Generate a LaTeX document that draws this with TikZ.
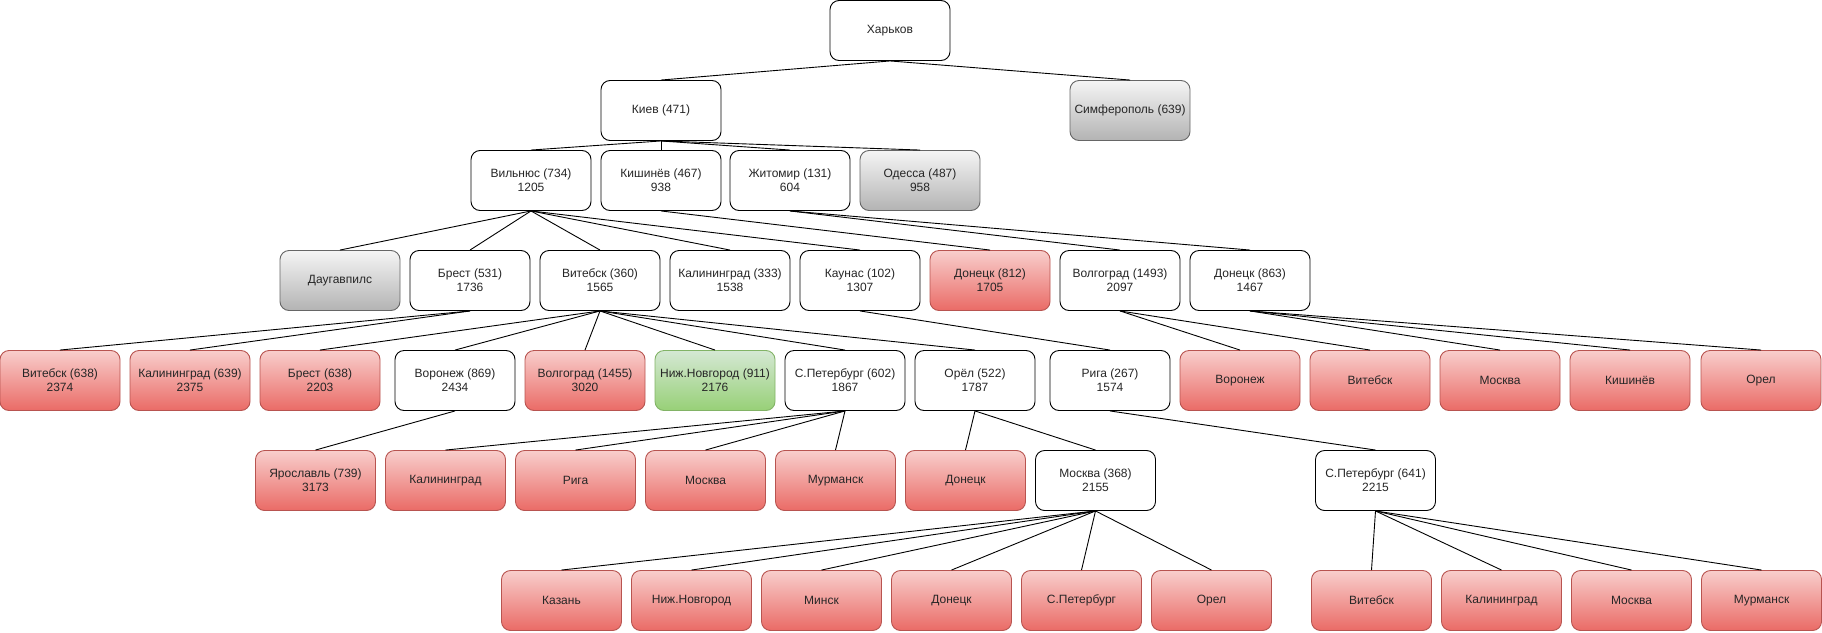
\documentclass[tikz,border=0pt]{standalone}
\usepackage{fontspec}
\setmainfont{Liberation Sans}
\definecolor{rtop}{HTML}{F8CECC}
\definecolor{rbot}{HTML}{EA6B66}
\definecolor{rline}{HTML}{B85450}
\definecolor{gtop}{HTML}{F5F5F5}
\definecolor{gbot}{HTML}{B3B3B3}
\definecolor{gline}{HTML}{666666}
\definecolor{ntop}{HTML}{D5E8D4}
\definecolor{nbot}{HTML}{97D077}
\definecolor{nline}{HTML}{82B366}
\tikzset{
  box/.style={rounded corners=9pt, minimum width=120pt, minimum height=60pt, inner sep=0pt,
    align=center, line width=0.9pt, font=\fontsize{12}{14}\selectfont, text=black!85},
  wbox/.style={box, draw=black, fill=white},
  rbox/.style={box, draw=rline, top color=rtop, bottom color=rbot},
  gybox/.style={box, draw=gline, top color=gtop, bottom color=gbot},
  grbox/.style={box, draw=nline, top color=ntop, bottom color=nbot},
  edge/.style={draw=black, line width=0.9pt}
}
\begin{document}
\begin{tikzpicture}[x=1pt,y=-1pt]
\useasboundingbox (0,0) rectangle (1822,632);
% row 1
\node[wbox] (khar) at (890,30.5) {Харьков};
% row 2
\node[wbox] (kiev) at (661,110.5) {Киев (471)};
\node[gybox] (simf) at (1130,110.5) {Симферополь (639)};
% row 3
\node[wbox] (viln) at (531,180.5) {Вильнюс (734)\\1205};
\node[wbox] (kish) at (661,180.5) {Кишинёв (467)\\938};
\node[wbox] (zhit) at (790,180.5) {Житомир (131)\\604};
\node[gybox] (odes) at (920,180.5) {Одесса (487)\\958};
% row 4
\node[gybox] (daug) at (340,280.5) {Даугавпилс};
\node[wbox] (brest) at (470,280.5) {Брест (531)\\1736};
\node[wbox] (vit) at (600,280.5) {Витебск (360)\\1565};
\node[wbox] (kal) at (730,280.5) {Калининград (333)\\1538};
\node[wbox] (kaun) at (860,280.5) {Каунас (102)\\1307};
\node[rbox] (don812) at (990,280.5) {Донецк (812)\\1705};
\node[wbox] (volg) at (1120,280.5) {Волгоград (1493)\\2097};
\node[wbox] (don863) at (1250,280.5) {Донецк (863)\\1467};
% row 5
\node[rbox] (a1) at (60,380.5) {Витебск (638)\\2374};
\node[rbox] (a2) at (190,380.5) {Калининград (639)\\2375};
\node[rbox] (a3) at (320,380.5) {Брест (638)\\2203};
\node[wbox] (a4) at (455,380.5) {Воронеж (869)\\2434};
\node[rbox] (a5) at (585,380.5) {Волгоград (1455)\\3020};
\node[grbox] (a6) at (715,380.5) {Ниж.Новгород (911)\\2176};
\node[wbox] (a7) at (845,380.5) {С.Петербург (602)\\1867};
\node[wbox] (a8) at (975,380.5) {Орёл (522)\\1787};
\node[wbox] (a9) at (1110,380.5) {Рига (267)\\1574};
\node[rbox] (a10) at (1240,380.5) {Воронеж};
\node[rbox] (a11) at (1370,380.5) {Витебск};
\node[rbox] (a12) at (1500,380.5) {Москва};
\node[rbox] (a13) at (1630,380.5) {Кишинёв};
\node[rbox] (a14) at (1761,380.5) {Орел};
% row 6
\node[rbox] (b1) at (315.5,480.5) {Ярославль (739)\\3173};
\node[rbox] (b2) at (445.5,480.5) {Калининград};
\node[rbox] (b3) at (575.5,480.5) {Рига};
\node[rbox] (b4) at (705.5,480.5) {Москва};
\node[rbox] (b5) at (835.5,480.5) {Мурманск};
\node[rbox] (b6) at (965.5,480.5) {Донецк};
\node[wbox] (b7) at (1095.5,480.5) {Москва (368)\\2155};
\node[wbox] (b8) at (1375.5,480.5) {С.Петербург (641)\\2215};
% row 7
\node[rbox] (c1) at (561.5,600.5) {Казань};
\node[rbox] (c2) at (691.5,600.5) {Ниж.Новгород};
\node[rbox] (c3) at (821.5,600.5) {Минск};
\node[rbox] (c4) at (951.5,600.5) {Донецк};
\node[rbox] (c5) at (1081.5,600.5) {С.Петербург};
\node[rbox] (c6) at (1211.5,600.5) {Орел};
\node[rbox] (c7) at (1371.5,600.5) {Витебск};
\node[rbox] (c8) at (1501.5,600.5) {Калининград};
\node[rbox] (c9) at (1631.5,600.5) {Москва};
\node[rbox] (c10) at (1761.5,600.5) {Мурманск};
% edges
\foreach \p/\c in {khar/kiev, khar/simf,
  kiev/viln, kiev/kish, kiev/zhit, kiev/odes,
  viln/daug, viln/brest, viln/vit, viln/kal, viln/kaun,
  kish/don812, zhit/volg, zhit/don863,
  brest/a1, brest/a2,
  vit/a3, vit/a4, vit/a5, vit/a6, vit/a7, vit/a8,
  kaun/a9, volg/a10, volg/a11, don863/a12, don863/a13, don863/a14,
  a4/b1, a7/b2, a7/b3, a7/b4, a7/b5, a8/b6, a8/b7, a9/b8,
  b7/c1, b7/c2, b7/c3, b7/c4, b7/c5, b7/c6,
  b8/c7, b8/c8, b8/c9, b8/c10}
  \draw[edge] (\p.south) -- (\c.north);
\end{tikzpicture}
\end{document}
